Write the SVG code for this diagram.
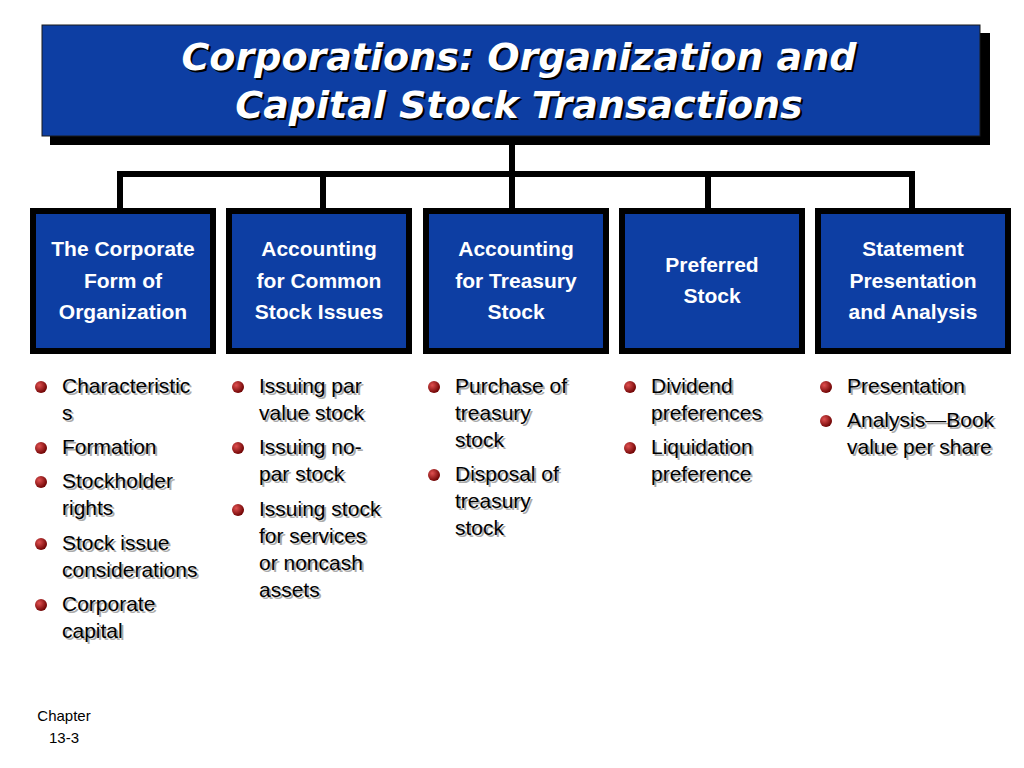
<svg xmlns="http://www.w3.org/2000/svg" width="1024" height="768" viewBox="0 0 1024 768">
<defs>
<radialGradient id="bg" cx="0.35" cy="0.35" r="0.7"><stop offset="0" stop-color="#e05050"/><stop offset="1" stop-color="#6a0000"/></radialGradient>
<style>
.box{fill:#0d3ea3;stroke:#000;stroke-width:6}
.nt{font-family:"Liberation Sans",Arial,sans-serif;font-weight:bold;font-size:21px;fill:#fff;text-anchor:middle}
.sh{fill:#000;opacity:0.6}
.bt{font-family:"Liberation Sans",Arial,sans-serif;font-size:21px;fill:#000}
.bs{font-family:"Liberation Sans",Arial,sans-serif;font-size:21px;fill:#aaa}
.ti{font-family:"DejaVu Sans",sans-serif;font-style:italic;font-weight:bold;font-size:38px;text-anchor:middle}
.ln{stroke:#000;stroke-width:6;fill:none}
</style>
</defs>
<rect width="1024" height="768" fill="#fff"/>
<g id="title">
<rect x="50" y="33" width="940" height="112" fill="#000"/>
<rect x="42" y="25" width="938" height="111" fill="#0d3ea3" stroke="#1a1a1a" stroke-width="1"/>
<text class="ti" x="521" y="72" fill="#000">Corporations: Organization and</text>
<text class="ti" x="521" y="120" fill="#000">Capital Stock Transactions</text>
<text class="ti" x="519" y="70" fill="#fff">Corporations: Organization and</text>
<text class="ti" x="519" y="118" fill="#fff">Capital Stock Transactions</text>
</g>
<g id="connectors">
<path class="ln" d="M512 145V174M120 210V174H912V210M323 174V210M512 174V210M708 174V210"/>
</g>
<g id="n1"><rect class="box" x="33" y="211" width="180" height="140"/>
<text class="nt" x="123" y="256">The Corporate</text><text class="nt" x="123" y="288">Form of</text><text class="nt" x="123" y="319">Organization</text></g>
<g id="n2"><rect class="box" x="229" y="211" width="180" height="140"/>
<text class="nt" x="319" y="256">Accounting</text><text class="nt" x="319" y="288">for  Common</text><text class="nt" x="319" y="319">Stock Issues</text></g>
<g id="n3"><rect class="box" x="426" y="211" width="180" height="140"/>
<text class="nt" x="516" y="256">Accounting</text><text class="nt" x="516" y="288">for Treasury</text><text class="nt" x="516" y="319">Stock</text></g>
<g id="n4"><rect class="box" x="622" y="211" width="180" height="140"/>
<text class="nt" x="712" y="272">Preferred</text><text class="nt" x="712" y="303">Stock</text></g>
<g id="n5"><rect class="box" x="818" y="211" width="190" height="140"/>
<text class="nt" x="913" y="256">Statement</text><text class="nt" x="913" y="288">Presentation</text><text class="nt" x="913" y="319">and Analysis</text></g>
<g id="bullets">
<g fill="url(#bg)">
<circle cx="41" cy="387" r="6"/><circle cx="41" cy="448" r="6"/><circle cx="41" cy="482" r="6"/><circle cx="41" cy="544" r="6"/><circle cx="41" cy="605" r="6"/>
<circle cx="238" cy="387" r="6"/><circle cx="238" cy="448" r="6"/><circle cx="238" cy="510" r="6"/>
<circle cx="434" cy="387" r="6"/><circle cx="434" cy="475" r="6"/>
<circle cx="630" cy="387" r="6"/><circle cx="630" cy="448" r="6"/>
<circle cx="826" cy="387" r="6"/><circle cx="826" cy="421" r="6"/>
</g>
<g class="bs" transform="translate(2,2)">
<text x="62" y="393">Characteristic</text><text x="62" y="420">s</text><text x="62" y="454">Formation</text><text x="62" y="488">Stockholder</text><text x="62" y="515">rights</text><text x="62" y="550">Stock issue</text><text x="62" y="577">considerations</text><text x="62" y="611">Corporate</text><text x="62" y="638">capital</text>
<text x="259" y="393">Issuing par</text><text x="259" y="420">value stock</text><text x="259" y="454">Issuing no-</text><text x="259" y="481">par stock</text><text x="259" y="516">Issuing stock</text><text x="259" y="543">for services</text><text x="259" y="570">or noncash</text><text x="259" y="597">assets</text>
<text x="455" y="393">Purchase of</text><text x="455" y="420">treasury</text><text x="455" y="447">stock</text><text x="455" y="481">Disposal of</text><text x="455" y="508">treasury</text><text x="455" y="535">stock</text>
<text x="651" y="393">Dividend</text><text x="651" y="420">preferences</text><text x="651" y="454">Liquidation</text><text x="651" y="481">preference</text>
<text x="847" y="393">Presentation</text><text x="847" y="427">Analysis—Book</text><text x="847" y="454">value per share</text>
</g>
<g class="bt">
<text x="62" y="393">Characteristic</text><text x="62" y="420">s</text><text x="62" y="454">Formation</text><text x="62" y="488">Stockholder</text><text x="62" y="515">rights</text><text x="62" y="550">Stock issue</text><text x="62" y="577">considerations</text><text x="62" y="611">Corporate</text><text x="62" y="638">capital</text>
<text x="259" y="393">Issuing par</text><text x="259" y="420">value stock</text><text x="259" y="454">Issuing no-</text><text x="259" y="481">par stock</text><text x="259" y="516">Issuing stock</text><text x="259" y="543">for services</text><text x="259" y="570">or noncash</text><text x="259" y="597">assets</text>
<text x="455" y="393">Purchase of</text><text x="455" y="420">treasury</text><text x="455" y="447">stock</text><text x="455" y="481">Disposal of</text><text x="455" y="508">treasury</text><text x="455" y="535">stock</text>
<text x="651" y="393">Dividend</text><text x="651" y="420">preferences</text><text x="651" y="454">Liquidation</text><text x="651" y="481">preference</text>
<text x="847" y="393">Presentation</text><text x="847" y="427">Analysis—Book</text><text x="847" y="454">value per share</text>
</g>
</g>
<g id="footer" font-family="Liberation Sans,Arial,sans-serif" font-size="15" fill="#000" text-anchor="middle">
<text x="64" y="721">Chapter</text><text x="64" y="743">13-3</text>
</g>
</svg>
